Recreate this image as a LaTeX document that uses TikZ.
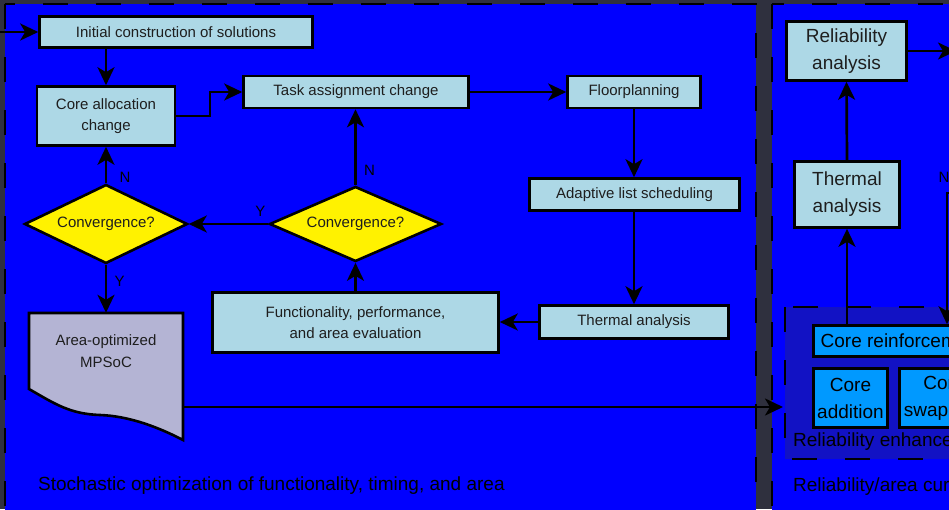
\documentclass[tikz,border=0pt]{standalone}
\usepackage{fontspec}
\setmainfont{Liberation Sans}
\usetikzlibrary{positioning}
\usetikzlibrary{shapes.geometric}
\usetikzlibrary{arrows.meta}

\definecolor{bgdark}{RGB}{47,48,62}
\definecolor{panelblue}{RGB}{0,0,255}
\definecolor{enhblue}{RGB}{18,18,196}
\definecolor{boxblue}{RGB}{173,216,230}
\definecolor{reinfblue}{RGB}{0,153,255}
\definecolor{docgray}{RGB}{180,180,212}
\definecolor{textdark}{RGB}{30,30,30}

\newcommand\smallfont{\fontsize{15}{21.5}\selectfont}
\newcommand\bigfont{\fontsize{19}{27}\selectfont}

\tikzset{
  panel/.style={draw, fill=panelblue, line width=2.8pt, dash pattern=on 25pt off 28pt},
  enhpanel/.style={draw, fill=enhblue, line width=2.8pt, dash pattern=on 25pt off 28pt},
  stepbox/.style={draw, fill=boxblue, line width=2.6pt, text=textdark, font=\smallfont, align=center, inner sep=0pt},
  bigbox/.style={stepbox, font=\bigfont},
  reinfbox/.style={draw, fill=reinfblue, line width=2.6pt, text=black, font=\bigfont, align=center, inner sep=0pt},
  decision/.style={diamond, aspect=2, draw, fill=yellow, line width=2.6pt, text=textdark, font=\smallfont, inner sep=0pt},
  docbox/.style={draw, fill=docgray, line width=2.6pt},
  flow/.style={line width=2.7pt, -{Stealth[length=18pt, width=17pt, inset=5pt]}},
  edgelabel/.style={font=\smallfont, text=black},
  caption/.style={font=\bigfont, text=black, anchor=west, inner sep=0pt}
}

\begin{document}
\begin{tikzpicture}[x=1pt, y=-1pt]
  \useasboundingbox (0,0) rectangle (949,509);
  \clip (0,0) rectangle (949,509);
  \fill[bgdark] (0,0) rectangle (949,509);

  % panels
  \draw[panel] (5,4) rectangle (756,530);
  \draw[panel] (772,4) rectangle (1100,530);
  \draw[enhpanel] (785,307) rectangle (1100,459);

  % left loop
  \node (init) [stepbox, minimum width=273pt, minimum height=31pt] at (176,32) {Initial construction of solutions};
  \node (alloc) [stepbox, minimum width=138pt, minimum height=59pt] at (106,116) {Core allocation\\change};
  \node (task) [stepbox, minimum width=225pt, minimum height=32pt] at (356,92) {Task assignment change};
  \node (floor) [stepbox, minimum width=133pt, minimum height=32pt] at (634,92) {Floorplanning};
  \node (sched) [stepbox, minimum width=210pt, minimum height=32pt] at (634.5,194.5) {Adaptive list scheduling};
  \node (therm) [stepbox, minimum width=189pt, minimum height=33pt] at (634,322) {Thermal analysis};
  \node (eval) [stepbox, minimum width=286pt, minimum height=60pt] at (355.5,322.5) {Functionality, performance,\\and area evaluation};
  \node (conv1) [decision, minimum width=163pt, minimum height=79pt] at (106,224) {Convergence?};
  \node (conv2) [decision, minimum width=172pt, minimum height=75pt] at (355.5,224) {Convergence?};

  % output document
  \draw[docbox] (29,313) -- (183,313) -- (183,440)
    .. controls (160,428) and (130,416) .. (100,415)
    .. controls (70,414) and (55,404) .. (29,389) -- cycle;
  \node (doc) [minimum width=154pt, minimum height=76pt, inner sep=0pt, font=\smallfont, text=textdark, align=center] at (106,351) {Area-optimized\\MPSoC};

  % right panel
  \node (rel) [bigbox, minimum width=120pt, minimum height=59pt] at (846.5,51) {Reliability\\analysis};
  \node (therm2) [bigbox, minimum width=105pt, minimum height=66pt] at (847,194.5) {Thermal\\analysis};
  \node (reinf) [reinfbox, minimum width=177pt, minimum height=31pt] at (902,341) {Core reinforcement};
  \node (add) [reinfbox, minimum width=74pt, minimum height=59pt] at (850.5,398) {Core\\addition};
  \node (swap) [reinfbox, minimum width=89pt, minimum height=59pt] at (944,398) {Core\\swapping};
  \node (enhlabel) [caption] at (793,442) {Reliability enhancement};
  \node (curvelabel) [caption] at (793,487) {Reliability/area curve};
  \node (stochlabel) [caption] at (38,486) {Stochastic optimization of functionality, timing, and area};

  \coordinate (start) at (-5,32);
  \coordinate (enhin) at (783,407);
  \coordinate (relout) at (956,51);
  \coordinate (nin) at (960,193);
  \coordinate (nturn) at (947,193);

  % connectors
  \draw[flow] (start) -- (init.west);
  \draw[flow] (init.south -| alloc) -- (alloc.north);
  \draw[flow] (alloc.east) -- (210,116) |- (task.west);
  \draw[flow] (task.east) -- (floor.west);
  \draw[flow] (floor.south) -- (sched.north -| floor);
  \draw[flow] (sched.south -| therm) -- (therm.north);
  \draw[flow] (therm.west) -- (therm.west -| eval.east);
  \draw[flow] (eval.north) -- (conv2.south);
  \draw[flow] (conv2.north) -- node[edgelabel, right=4pt, pos=0.2] {N} (conv2.north |- task.south);
  \draw[flow] (conv2.west) -- node[edgelabel, above=3pt, pos=0.1] {Y} (conv1.east);
  \draw[flow] (conv1.north) -- node[edgelabel, right=9pt, pos=0.15] {N} (alloc.south);
  \draw[flow] (conv1.south) -- node[edgelabel, right=4pt, pos=0.35] {Y} (doc.north);
  \draw[flow] (doc.east |- enhin) -- (enhin);

  \draw[flow] (rel.east) -- (relout);
  \draw[flow] (therm2.north) -- (rel.south);
  \draw[flow] (therm2.south |- reinf.north) -- (therm2.south);
  \draw[flow] (nin) -- (nturn) -- (nturn |- reinf.north);
  \node (nlabel) [edgelabel] at (944,177) {N};
\end{tikzpicture}
\end{document}
